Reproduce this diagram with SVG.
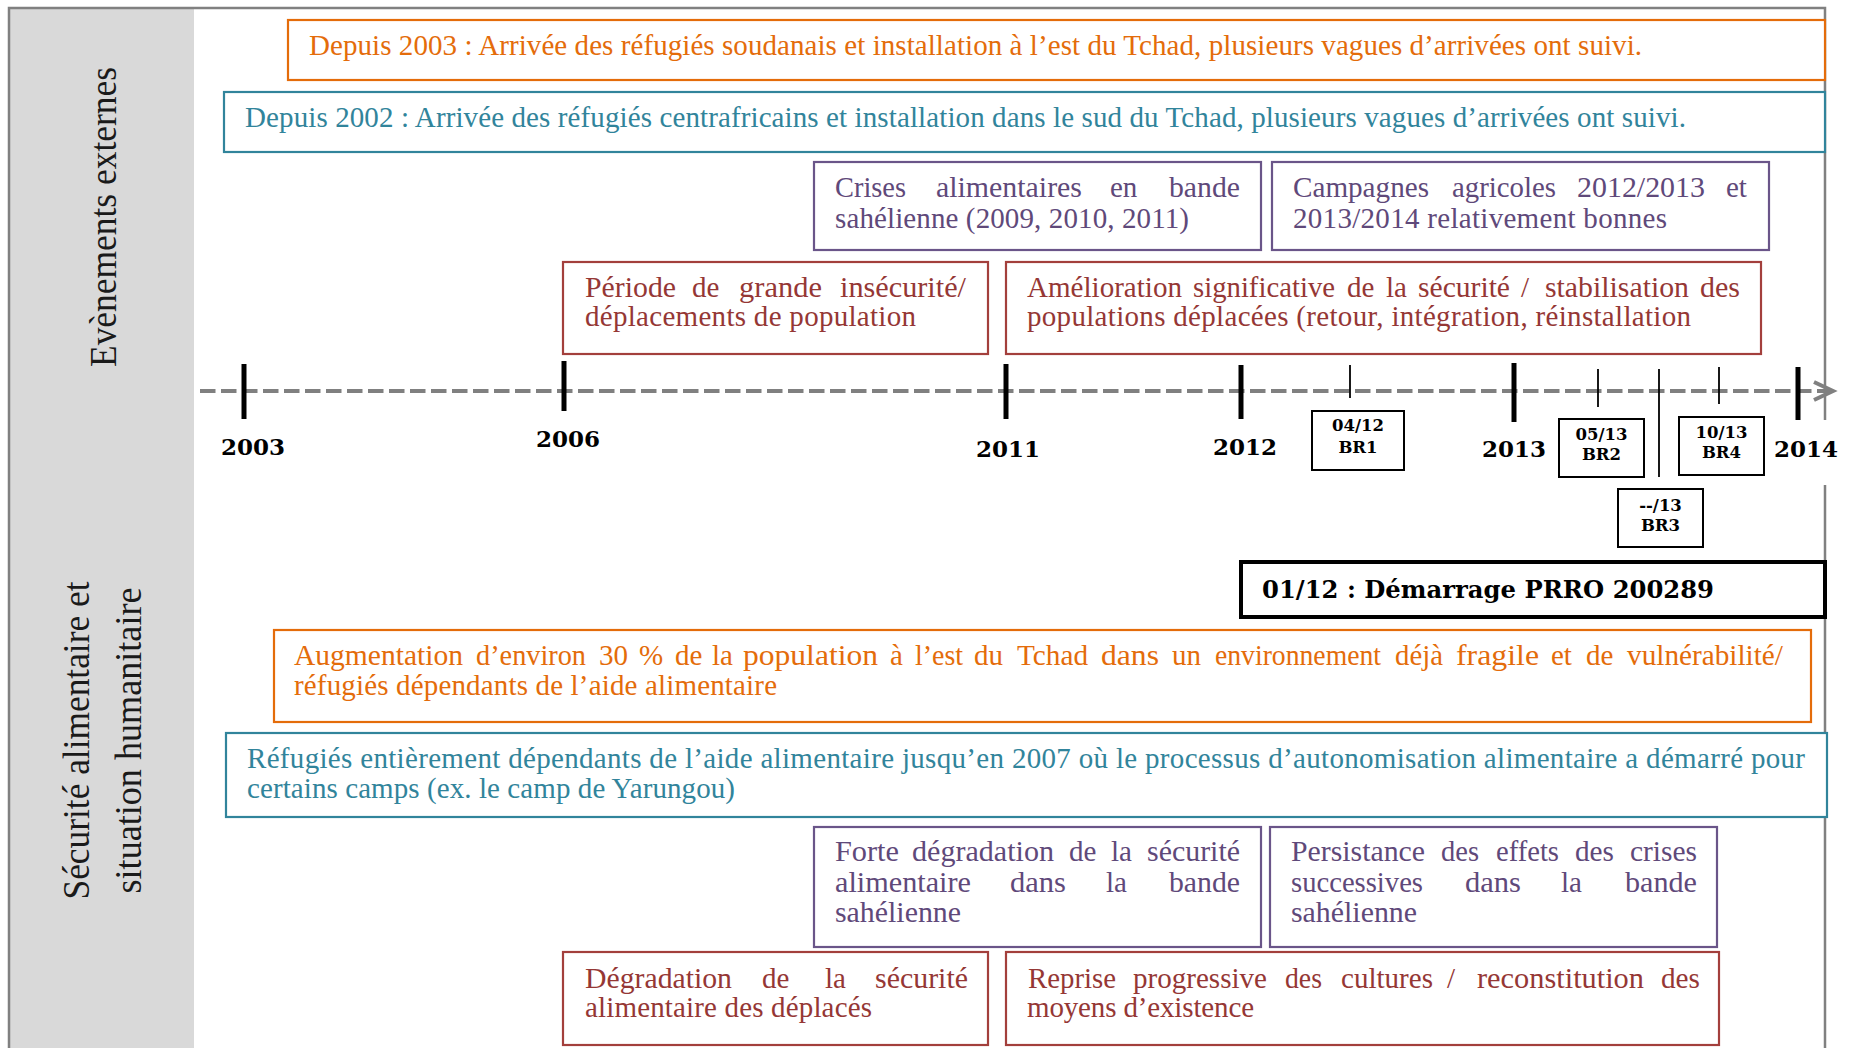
<svg xmlns="http://www.w3.org/2000/svg" width="1851" height="1048" viewBox="0 0 1851 1048">
<style>
.bg{fill:#ffffff}
.panel{fill:#d9d9d9}
.frame{fill:none;stroke:#808080;stroke-width:2.5}
.box{fill:#ffffff;stroke-width:2.2}
.or{stroke:#E46C0A}.ort{fill:#E46C0A}
.tl{stroke:#31849B}.tlt{fill:#31849B}
.pu{stroke:#6A5589}.put{fill:#5F497A}
.rd{stroke:#A33F3C}.rdt{fill:#953735}
.t{font-family:"Liberation Serif","Times New Roman",serif;font-size:29px}
.lab{font-family:"Liberation Serif","Times New Roman",serif;font-size:37px;fill:#1a1a1a;text-anchor:middle}
.yr{font-family:"DejaVu Serif",serif;font-weight:bold;font-size:23px;fill:#000}
.brt{font-family:"DejaVu Serif",serif;font-weight:bold;font-size:16.5px;fill:#000;text-anchor:middle}
.brbox{fill:#ffffff;stroke:#000;stroke-width:2}
.prrobox{fill:#ffffff;stroke:#000;stroke-width:4}
.prro{font-family:"DejaVu Serif",serif;font-weight:bold;font-size:25px;fill:#000}
.axis{fill:none;stroke:#808080;stroke-width:4;stroke-dasharray:15.5 5.5}
.tick{stroke:#000;stroke-width:5}
.tick2{stroke:#000;stroke-width:1.8}
</style>
<defs>
<marker id="chev" markerUnits="userSpaceOnUse" markerWidth="24" markerHeight="24" refX="20" refY="10" orient="auto" overflow="visible">
<path d="M1,1 L20,10 L1,19" fill="none" stroke="#808080" stroke-width="4" stroke-dasharray="none"/>
</marker>
</defs>
<rect class="bg" x="0" y="0" width="1851" height="1048"/>
<rect class="panel" x="9" y="8" width="185" height="1045"/>
<path class="frame" d="M1825,420 L1825,8 L9,8 L9,1060 M1825,485 L1825,1060"/>

<g id="label-evenements">
<text class="lab" transform="translate(116,217) rotate(-90)" textLength="300" lengthAdjust="spacingAndGlyphs">Evènements externes</text>
</g>
<g id="label-securite">
<text class="lab" transform="translate(89,740.5) rotate(-90)" textLength="318" lengthAdjust="spacingAndGlyphs">Sécurité alimentaire et</text>
<text class="lab" transform="translate(141,740.5) rotate(-90)" textLength="306" lengthAdjust="spacingAndGlyphs">situation humanitaire</text>
</g>

<g id="connectors">
<path class="axis" d="M200,391 L1833,391" marker-end="url(#chev)"/>
<line class="tick" x1="244" y1="364" x2="244" y2="419"/>
<line class="tick" x1="564" y1="361" x2="564" y2="411"/>
<line class="tick" x1="1006" y1="364" x2="1006" y2="419"/>
<line class="tick" x1="1241" y1="365" x2="1241" y2="419"/>
<line class="tick" x1="1514" y1="363" x2="1514" y2="422"/>
<line class="tick" x1="1798" y1="367" x2="1798" y2="420"/>
<line class="tick2" x1="1350" y1="365" x2="1350" y2="398"/>
<line class="tick2" x1="1598" y1="369" x2="1598" y2="407"/>
<line class="tick2" x1="1659" y1="369" x2="1659" y2="477"/>
<line class="tick2" x1="1719" y1="367" x2="1719" y2="404"/>
</g>

<g id="years">
<text class="yr" x="221" y="455">2003</text>
<text class="yr" x="536" y="447">2006</text>
<text class="yr" x="976" y="457">2011</text>
<text class="yr" x="1213" y="455">2012</text>
<text class="yr" x="1482" y="457">2013</text>
<text class="yr" x="1774" y="457">2014</text>
</g>

<g id="br1">
<rect class="brbox" x="1312" y="411" width="92" height="59"/>
<text class="brt" x="1358" y="431">04/12</text>
<text class="brt" x="1358" y="453">BR1</text>
</g>
<g id="br2">
<rect class="brbox" x="1559" y="419" width="85" height="58"/>
<text class="brt" x="1601.5" y="440">05/13</text>
<text class="brt" x="1601.5" y="460">BR2</text>
</g>
<g id="br3">
<rect class="brbox" x="1618" y="489" width="85" height="58"/>
<text class="brt" x="1660.5" y="511">--/13</text>
<text class="brt" x="1660.5" y="531">BR3</text>
</g>
<g id="br4">
<rect class="brbox" x="1679" y="417" width="85" height="58"/>
<text class="brt" x="1721.5" y="438">10/13</text>
<text class="brt" x="1721.5" y="458">BR4</text>
</g>

<g id="prro">
<rect class="prrobox" x="1241" y="562" width="584" height="55"/>
<text class="prro" x="1262" y="598" textLength="452" lengthAdjust="spacingAndGlyphs">01/12 : Démarrage PRRO 200289</text>
</g>

<g id="depuis-2003">
<rect class="box or" x="288" y="20" width="1537" height="60"/>
<text class="t ort" x="309" y="55" textLength="1333" lengthAdjust="spacing">Depuis 2003 : Arrivée des réfugiés soudanais et installation à l’est du Tchad, plusieurs vagues d’arrivées ont suivi.</text>
</g>

<g id="depuis-2002">
<rect class="box tl" x="224" y="92" width="1601" height="60"/>
<text class="t tlt" x="245" y="127" textLength="1441" lengthAdjust="spacing">Depuis 2002 : Arrivée des réfugiés centrafricains et installation dans le sud du Tchad, plusieurs vagues d’arrivées ont suivi.</text>
</g>

<g id="crises">
<rect class="box pu" x="814" y="162" width="447" height="88"/>
<text class="t put" y="197"><tspan x="835" textLength="71" lengthAdjust="spacingAndGlyphs">Crises</tspan> <tspan x="936" textLength="146" lengthAdjust="spacingAndGlyphs">alimentaires</tspan> <tspan x="1110">en</tspan> <tspan x="1169" textLength="71" lengthAdjust="spacingAndGlyphs">bande</tspan></text>
<text class="t put" x="835" y="228" textLength="354" lengthAdjust="spacing">sahélienne (2009, 2010, 2011)</text>
</g>

<g id="campagnes">
<rect class="box pu" x="1272" y="162" width="497" height="88"/>
<text class="t put" y="197"><tspan x="1293" textLength="136" lengthAdjust="spacingAndGlyphs">Campagnes</tspan> <tspan x="1452" textLength="104" lengthAdjust="spacingAndGlyphs">agricoles</tspan> <tspan x="1577" textLength="128" lengthAdjust="spacingAndGlyphs">2012/2013</tspan> <tspan x="1726">et</tspan></text>
<text class="t put" x="1293" y="228" textLength="374" lengthAdjust="spacing">2013/2014 relativement bonnes</text>
</g>

<g id="periode">
<rect class="box rd" x="563" y="262" width="425" height="92"/>
<text class="t rdt" y="297"><tspan x="585" textLength="91" lengthAdjust="spacingAndGlyphs">Période</tspan> <tspan x="692">de</tspan> <tspan x="739" textLength="83" lengthAdjust="spacingAndGlyphs">grande</tspan> <tspan x="840" textLength="126" lengthAdjust="spacingAndGlyphs">insécurité/</tspan></text>
<text class="t rdt" x="585" y="326" textLength="331" lengthAdjust="spacing">déplacements de population</text>
</g>

<g id="amelioration">
<rect class="box rd" x="1006" y="262" width="755" height="92"/>
<text class="t rdt" y="297"><tspan x="1027" textLength="155" lengthAdjust="spacingAndGlyphs">Amélioration</tspan> <tspan x="1193" textLength="142" lengthAdjust="spacingAndGlyphs">significative</tspan> <tspan x="1347">de</tspan> <tspan x="1386">la</tspan> <tspan x="1418" textLength="92" lengthAdjust="spacingAndGlyphs">sécurité</tspan> <tspan x="1521">/</tspan> <tspan x="1545" textLength="144" lengthAdjust="spacingAndGlyphs">stabilisation</tspan> <tspan x="1700" textLength="40" lengthAdjust="spacingAndGlyphs">des</tspan></text>
<text class="t rdt" x="1027" y="326" textLength="664" lengthAdjust="spacing">populations déplacées (retour, intégration, réinstallation</text>
</g>

<g id="augmentation">
<rect class="box or" x="274" y="630" width="1537" height="92"/>
<text class="t ort" y="665"><tspan x="294" textLength="169" lengthAdjust="spacingAndGlyphs">Augmentation</tspan> <tspan x="476" textLength="110" lengthAdjust="spacingAndGlyphs">d’environ</tspan> <tspan x="599">30</tspan> <tspan x="639">%</tspan> <tspan x="675">de</tspan> <tspan x="712">la</tspan> <tspan x="743" textLength="135" lengthAdjust="spacingAndGlyphs">population</tspan> <tspan x="890">à</tspan> <tspan x="915" textLength="48" lengthAdjust="spacingAndGlyphs">l’est</tspan> <tspan x="974">du</tspan> <tspan x="1017" textLength="71" lengthAdjust="spacingAndGlyphs">Tchad</tspan> <tspan x="1101" textLength="58" lengthAdjust="spacingAndGlyphs">dans</tspan> <tspan x="1172">un</tspan> <tspan x="1215" textLength="166" lengthAdjust="spacingAndGlyphs">environnement</tspan> <tspan x="1395" textLength="48" lengthAdjust="spacingAndGlyphs">déjà</tspan> <tspan x="1456" textLength="83" lengthAdjust="spacingAndGlyphs">fragile</tspan> <tspan x="1551">et</tspan> <tspan x="1586">de</tspan> <tspan x="1627" textLength="156" lengthAdjust="spacingAndGlyphs">vulnérabilité/</tspan></text>
<text class="t ort" x="294" y="695" textLength="483" lengthAdjust="spacing">réfugiés dépendants de l’aide alimentaire</text>
</g>

<g id="refugies">
<rect class="box tl" x="226" y="733" width="1601" height="84"/>
<text class="t tlt" x="247" y="768" textLength="1558" lengthAdjust="spacing">Réfugiés entièrement dépendants de l’aide alimentaire jusqu’en 2007 où le processus d’autonomisation alimentaire a démarré pour</text>
<text class="t tlt" x="247" y="798" textLength="488" lengthAdjust="spacing">certains camps (ex. le camp de Yarungou)</text>
</g>

<g id="forte">
<rect class="box pu" x="814" y="827" width="447" height="120"/>
<text class="t put" y="861"><tspan x="835" textLength="64" lengthAdjust="spacingAndGlyphs">Forte</tspan> <tspan x="912" textLength="142" lengthAdjust="spacingAndGlyphs">dégradation</tspan> <tspan x="1069">de</tspan> <tspan x="1111">la</tspan> <tspan x="1147" textLength="93" lengthAdjust="spacingAndGlyphs">sécurité</tspan></text>
<text class="t put" y="892"><tspan x="835" textLength="136" lengthAdjust="spacingAndGlyphs">alimentaire</tspan> <tspan x="1010" textLength="56" lengthAdjust="spacingAndGlyphs">dans</tspan> <tspan x="1106">la</tspan> <tspan x="1169" textLength="71" lengthAdjust="spacingAndGlyphs">bande</tspan></text>
<text class="t put" x="835" y="922" textLength="126" lengthAdjust="spacingAndGlyphs">sahélienne</text>
</g>

<g id="persistance">
<rect class="box pu" x="1270" y="827" width="447" height="120"/>
<text class="t put" y="861"><tspan x="1291" textLength="134" lengthAdjust="spacingAndGlyphs">Persistance</tspan> <tspan x="1441" textLength="38" lengthAdjust="spacingAndGlyphs">des</tspan> <tspan x="1496" textLength="63" lengthAdjust="spacingAndGlyphs">effets</tspan> <tspan x="1575" textLength="39" lengthAdjust="spacingAndGlyphs">des</tspan> <tspan x="1630" textLength="67" lengthAdjust="spacingAndGlyphs">crises</tspan></text>
<text class="t put" y="892"><tspan x="1291" textLength="132" lengthAdjust="spacingAndGlyphs">successives</tspan> <tspan x="1465" textLength="56" lengthAdjust="spacingAndGlyphs">dans</tspan> <tspan x="1561">la</tspan> <tspan x="1625" textLength="72" lengthAdjust="spacingAndGlyphs">bande</tspan></text>
<text class="t put" x="1291" y="922" textLength="126" lengthAdjust="spacingAndGlyphs">sahélienne</text>
</g>

<g id="degradation">
<rect class="box rd" x="563" y="952" width="425" height="93"/>
<text class="t rdt" y="988"><tspan x="585" textLength="147" lengthAdjust="spacingAndGlyphs">Dégradation</tspan> <tspan x="762">de</tspan> <tspan x="825">la</tspan> <tspan x="875" textLength="93" lengthAdjust="spacingAndGlyphs">sécurité</tspan></text>
<text class="t rdt" x="585" y="1017" textLength="287" lengthAdjust="spacing">alimentaire des déplacés</text>
</g>

<g id="reprise">
<rect class="box rd" x="1006" y="952" width="713" height="93"/>
<text class="t rdt" y="988"><tspan x="1028" textLength="88" lengthAdjust="spacingAndGlyphs">Reprise</tspan> <tspan x="1133" textLength="134" lengthAdjust="spacingAndGlyphs">progressive</tspan> <tspan x="1285" textLength="37" lengthAdjust="spacingAndGlyphs">des</tspan> <tspan x="1341" textLength="92" lengthAdjust="spacingAndGlyphs">cultures</tspan> <tspan x="1447">/</tspan> <tspan x="1477" textLength="167" lengthAdjust="spacingAndGlyphs">reconstitution</tspan> <tspan x="1661" textLength="39" lengthAdjust="spacingAndGlyphs">des</tspan></text>
<text class="t rdt" x="1027" y="1017" textLength="227" lengthAdjust="spacing">moyens d’existence</text>
</g>
</svg>
